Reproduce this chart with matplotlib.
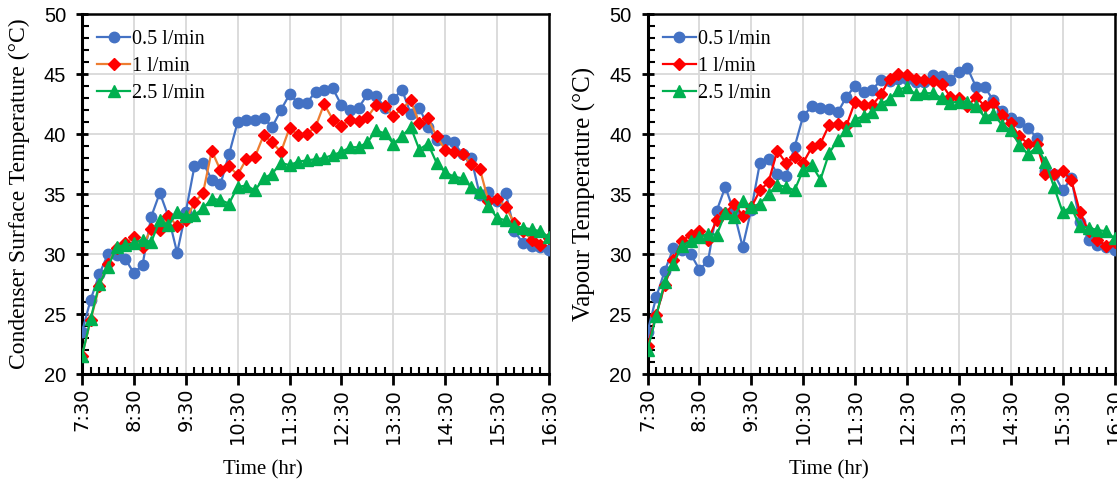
import matplotlib
matplotlib.use("Agg")
import matplotlib.pyplot as plt
from matplotlib.ticker import MultipleLocator, FixedLocator

# minutes after 7:30, sampled every 10 minutes
time_min = list(range(0, 541, 10))
tick_pos = [0, 60, 120, 180, 240, 300, 360, 420, 480, 540]
tick_labels = ["7:30", "8:30", "9:30", "10:30", "11:30", "12:30", "13:30", "14:30", "15:30", "16:30"]
series_names = ["0.5 l/min", "1 l/min", "2.5 l/min"]

cond_05 = [23.5, 26.2, 28.3, 30.0, 29.9, 29.6, 28.4, 29.1, 33.1, 35.1,
           33.1, 30.1, 33.5, 37.3, 37.6, 36.2, 35.8, 38.3, 41.0, 41.2,
           41.2, 41.3, 40.6, 42.0, 43.3, 42.6, 42.6, 43.5, 43.7, 43.8,
           42.4, 42.0, 42.2, 43.3, 43.2, 42.2, 42.9, 43.7, 41.7, 42.2,
           40.6, 39.5, 39.5, 39.3, 38.3, 38.0, 34.9, 35.2, 34.4, 35.1,
           31.9, 30.9, 30.7, 30.6, 30.3]
cond_1 = [21.5, 24.5, 27.3, 29.2, 30.5, 30.9, 31.4, 30.6, 32.1, 32.0,
          33.2, 32.3, 32.8, 34.3, 35.1, 38.6, 37.0, 37.3, 36.6, 37.9,
          38.1, 39.9, 39.3, 38.5, 40.5, 39.9, 40.0, 40.6, 42.5, 41.2,
          40.7, 41.2, 41.1, 41.4, 42.4, 42.3, 41.5, 42.1, 42.8, 40.9,
          41.3, 39.8, 38.7, 38.5, 38.3, 37.5, 37.1, 34.4, 34.6, 33.9,
          32.6, 31.9, 31.2, 30.75, 31.3]
cond_25 = [21.5, 24.6, 27.5, 28.9, 30.6, 30.75, 30.9, 31.2, 31.0, 32.8,
           32.4, 33.5, 33.2, 33.25, 33.8, 34.6, 34.5, 34.2, 35.6, 35.7,
           35.3, 36.3, 36.7, 37.6, 37.4, 37.7, 37.8, 37.9, 38.0, 38.25,
           38.5, 38.9, 38.9, 39.3, 40.3, 40.05, 39.2, 39.8, 40.6, 38.7,
           39.2, 37.6, 36.8, 36.45, 36.3, 35.6, 35.2, 34.0, 33.0, 32.8,
           32.3, 32.2, 32.05, 31.9, 31.4]

vap_05 = [23.5, 26.4, 28.6, 30.5, 30.3, 30.0, 28.7, 29.4, 33.6, 35.6,
          33.5, 30.6, 33.7, 37.6, 37.9, 36.7, 36.5, 38.9, 41.5, 42.3,
          42.2, 42.1, 41.8, 43.1, 44.0, 43.5, 43.7, 44.5, 44.4, 44.6,
          44.6, 44.3, 44.3, 44.9, 44.8, 44.5, 45.2, 45.5, 43.9, 43.9,
          42.8, 41.9, 41.3, 41.0, 40.5, 39.7, 36.9, 36.7, 35.3, 36.3,
          32.7, 31.2, 30.75, 30.6, 30.3]
vap_1 = [22.3, 24.9, 27.4, 29.5, 31.1, 31.6, 31.9, 31.2, 32.8, 33.4,
         34.2, 33.2, 33.9, 35.3, 36.0, 38.6, 37.6, 38.1, 37.6, 38.9,
         39.2, 40.75, 40.8, 40.7, 42.7, 42.4, 42.4, 43.3, 44.6, 45.0,
         44.9, 44.6, 44.5, 44.4, 44.2, 43.1, 43.0, 42.3, 43.1, 42.3,
         42.6, 41.6, 40.9, 39.8, 39.2, 39.2, 36.7, 36.7, 36.9, 36.2,
         33.5, 31.9, 31.2, 30.7, 31.0]
vap_25 = [22.0, 24.8, 27.7, 29.2, 30.7, 31.1, 31.4, 31.7, 31.6, 33.4,
          33.1, 34.4, 33.9, 34.2, 35.0, 35.75, 35.6, 35.3, 37.0, 37.4,
          36.2, 38.4, 39.5, 40.3, 41.2, 41.5, 41.8, 42.5, 42.9, 43.7,
          43.9, 43.3, 43.4, 43.4, 43.0, 42.6, 42.7, 42.7, 42.3, 41.4,
          41.7, 40.75, 40.3, 39.1, 38.3, 38.9, 37.7, 35.6, 33.5, 33.9,
          32.3, 32.2, 32.0, 31.9, 31.3]

BLUE = "#4472C4"
RED = "#FF0000"
ORANGE = "#ED7D31"
GREEN = "#00B050"
SERIF = "Liberation Serif"
NARROW = ["Liberation Sans Narrow", "Liberation Sans"]

fig = plt.figure(figsize=(11.17, 4.86), dpi=100)
AX_W = 467 / 1117
AX_H = 360 / 486
AX_B = 1 - 374 / 486
ax1 = fig.add_axes([82 / 1117, AX_B, AX_W, AX_H])
ax2 = fig.add_axes([647.5 / 1117, AX_B, AX_W, AX_H])


def style(ax, ylabel, ylabel_size):
    ax.set_xlim(0, 540)
    ax.set_ylim(20, 50)
    ax.xaxis.set_major_locator(FixedLocator(tick_pos))
    ax.set_xticklabels(tick_labels, rotation=90, fontsize=14, family="DejaVu Sans")
    ax.xaxis.set_minor_locator(MultipleLocator(10))
    ax.yaxis.set_major_locator(MultipleLocator(5))
    ax.yaxis.set_minor_locator(MultipleLocator(1))
    for lab in ax.get_yticklabels():
        lab.set_family(NARROW)
        lab.set_fontsize(14.5)
    ax.tick_params(axis="x", which="major", direction="out", length=8, width=2, pad=2)
    ax.tick_params(axis="x", which="minor", direction="in", length=5, width=1.5)
    ax.tick_params(axis="y", which="major", direction="inout", length=9, width=2, pad=7)
    ax.tick_params(axis="y", which="minor", direction="in", length=5, width=1.5)
    ax.grid(True, which="major", color="#D9D9D9", linewidth=1.3)
    ax.set_axisbelow(True)
    for side in ["left", "bottom"]:
        ax.spines[side].set_linewidth(2.2)
        ax.spines[side].set_color("black")
    for side in ["top", "right"]:
        ax.spines[side].set_linewidth(1.8)
        ax.spines[side].set_color("black")
    ax.set_xlabel("Time (hr)", family=SERIF, fontsize=15)
    ax.xaxis.set_label_coords(181 / 467, -96 / 360)
    ax.xaxis.label.set_verticalalignment("center")
    ax.set_ylabel(ylabel, family=SERIF, fontsize=ylabel_size)
    ax.yaxis.set_label_coords(-63 / 467, 0.5)
    ax.yaxis.label.set_verticalalignment("center")
    ax.legend(loc="upper left", frameon=False, prop={"family": SERIF, "size": 14.5},
              handlelength=1.65, handletextpad=0.1, labelspacing=0.4,
              borderaxespad=0.0, borderpad=0.4, bbox_to_anchor=(0.015, 0.978))


ax1.plot(time_min, cond_05, color=BLUE, marker="o", markersize=7.5, linewidth=1.6, label=series_names[0], zorder=3)
ax1.plot(time_min, cond_1, color=ORANGE, marker="D", markersize=6, markerfacecolor=RED,
         markeredgecolor=RED, linewidth=1.6, label=series_names[1], zorder=4)
ax1.plot(time_min, cond_25, color=GREEN, marker="^", markersize=8, linewidth=1.6, label=series_names[2], zorder=5)
style(ax1, "Condenser Surface Temperature (\u00b0C)", 17)

ax2.plot(time_min, vap_05, color=BLUE, marker="o", markersize=7.5, linewidth=1.6, label=series_names[0], zorder=3)
ax2.plot(time_min, vap_1, color=RED, marker="D", markersize=6, linewidth=1.6, label=series_names[1], zorder=4)
ax2.plot(time_min, vap_25, color=GREEN, marker="^", markersize=8, linewidth=1.6, label=series_names[2], zorder=5)
style(ax2, "Vapour Temperature (\u00b0C)", 18)

fig.savefig("out.png", dpi=100)
